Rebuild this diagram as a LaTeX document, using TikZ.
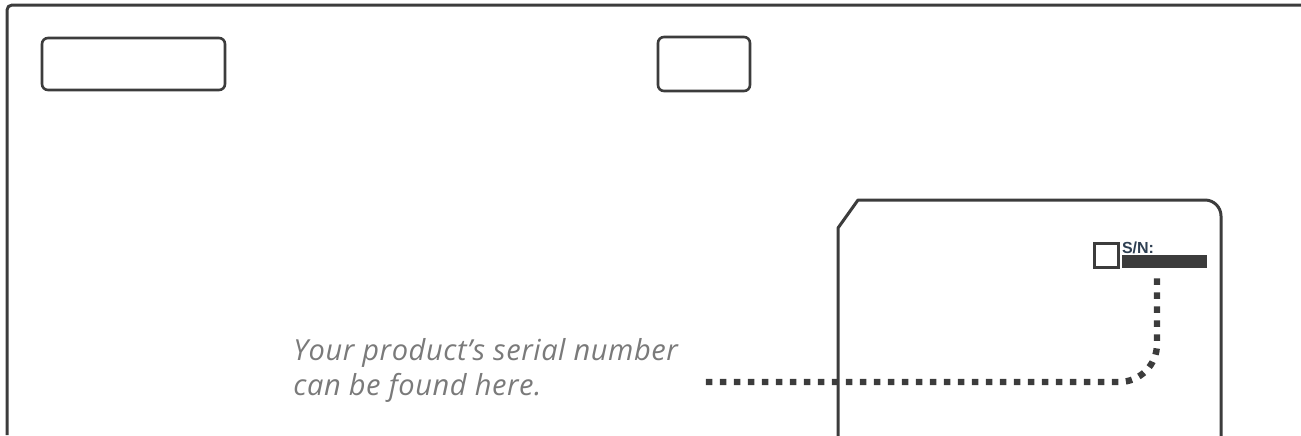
\documentclass[tikz,border=0pt]{standalone}
\usepackage{fontspec}
\usepackage{xcolor}
\usepackage{tikz}
\usetikzlibrary{positioning}
\newfontfamily\notefont[LetterSpace=2]{Open Sans}
\newfontfamily\labelfont{Liberation Sans}
\definecolor{outline}{HTML}{3C3C3C}
\definecolor{notegray}{HTML}{7A7A7A}
\definecolor{snblue}{HTML}{2E3F52}
\tikzset{
  casing/.style={draw=outline, line width=1.5pt, line join=round},
  keybox/.style={draw=outline, line width=1.3pt, rounded corners=3pt, inner sep=0pt},
  serialdots/.style={draw=outline, line width=3.2pt, dash pattern=on 3.2pt off 3.8pt}
}

\begin{document}
\begin{tikzpicture}[x=0.5pt, y=-0.5pt]
    \useasboundingbox (0,0) rectangle (1301,435);
    \draw[casing, rounded corners=2.5pt] (7,435) -- (7,5) -- (1305,5);
    \node[keybox, minimum width=91.5pt, minimum height=26pt] (slotleft) at (133.5,64) {};
    \node[keybox, minimum width=46pt, minimum height=27pt] (slotmid) at (704,64) {};
    \draw[casing] (838,440) -- (838,228) -- (858,200)
      [rounded corners=8pt] -- (1221,200) -- (1221,440);
    \node[draw=outline, line width=1.5pt, minimum size=12pt, inner sep=0pt] (checkbox) at (1106,255) {};
    \node[fill=outline, minimum width=42.5pt, minimum height=6.5pt, inner sep=0pt] (snbar) at (1164.5,261.5) {};
    \node[anchor=south west, inner sep=0pt, text=snblue, font=\labelfont\bfseries\fontsize{8}{9}\selectfont] (snlabel) at (snbar.north west) {S/N:};
    \node[anchor=base west, inner sep=0pt, align=left, text=notegray,
          font=\notefont\itshape\fontsize{14.5}{17.5}\selectfont] (note) at (293,395)
      {Your product’s serial number\\can be found here.};
    \coordinate (turn) at (1157,382);
    \coordinate (tip) at (705,382);
    \draw[serialdots, rounded corners=19pt] ([yshift=-5pt]snbar.south -| turn) -- (turn) -- (tip);
  \end{tikzpicture}
\end{document}
